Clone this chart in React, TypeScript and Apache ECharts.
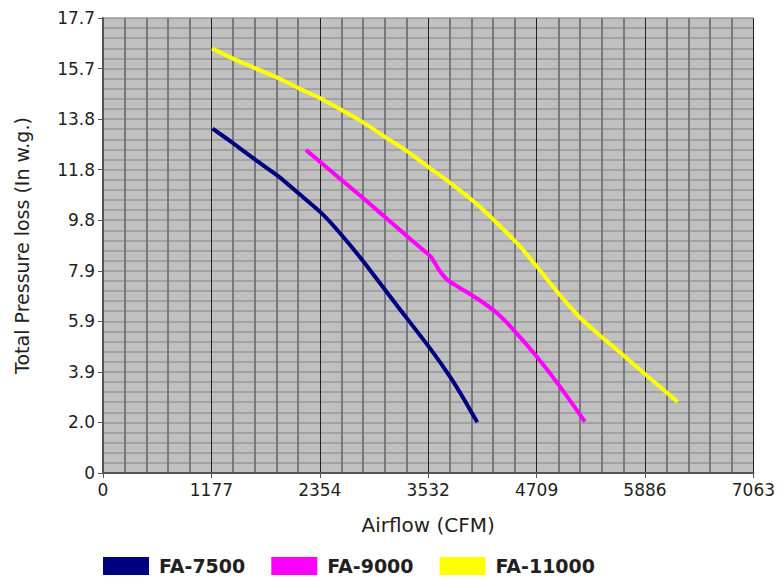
import React, { useEffect, useRef } from "react";
import * as echarts from "echarts";

const xMax = 7063;
const yMax = 17.7;
const seriesNames = ["FA-7500", "FA-9000", "FA-11000"];
const seriesColors = ["#000080", "#ff00ff", "#ffff00"];

const fa7500X = [1190, 1405, 1657, 1909, 2124, 2376, 2591, 2843, 3203, 3562, 3777, 3922, 4065];
const fa7500Y = [13.4, 12.85, 12.18, 11.53, 10.88, 10.1, 9.26, 8.16, 6.47, 4.8, 3.7, 2.86, 1.97];

const fa9000X = [2203, 2591, 2843, 3203, 3420, 3562, 3640, 3700, 3760, 3922, 4100, 4281, 4461, 4712, 4963, 5233];
const fa9000Y = [12.57, 11.4, 10.64, 9.52, 8.85, 8.41, 7.95, 7.66, 7.45, 7.1, 6.7, 6.21, 5.56, 4.52, 3.36, 2.0];

const fa11000X = [1183, 1405, 1657, 1909, 2124, 2358, 2591, 2843, 3050, 3310, 3526, 3777, 4030, 4245, 4497, 4712, 4946, 5179, 5413, 5647, 5898, 6240];
const fa11000Y = [16.52, 16.13, 15.74, 15.35, 14.97, 14.58, 14.12, 13.6, 13.1, 12.5, 11.92, 11.27, 10.55, 9.84, 8.94, 8.03, 6.99, 6.05, 5.3, 4.59, 3.81, 2.77];

const seriesX = [fa7500X, fa9000X, fa11000X];
const seriesY = [fa7500Y, fa9000Y, fa11000Y];

const FONT = "DejaVu Sans";

export default function App() {
  const ref = useRef<HTMLDivElement>(null);
  useEffect(() => {
    if (!ref.current) return;
    const chart = echarts.init(ref.current, undefined, { renderer: "svg" });
    chart.setOption({
      animation: false,
      backgroundColor: "#ffffff",
      grid: {
        left: 103,
        right: 20,
        top: 18,
        bottom: 106,
        show: true,
        backgroundColor: "#c0c0c0",
        borderWidth: 0,
      },
      legend: {
        left: 103,
        top: 556,
        padding: 0,
        itemWidth: 46,
        itemHeight: 18,
        itemGap: 26,
        icon: "rect",
        data: seriesNames,
        textStyle: {
          fontFamily: FONT,
          fontWeight: "bold",
          fontSize: 19,
          lineHeight: 20,
          color: "#231f20",
          padding: [0, 0, 0, 5],
        },
      },
      xAxis: {
        type: "value",
        min: 0,
        max: xMax,
        interval: xMax / 6,
        name: "Airflow (CFM)",
        nameLocation: "middle",
        nameGap: 42,
        nameTextStyle: { fontFamily: FONT, fontSize: 20, color: "#231f20" },
        axisLine: { show: true, lineStyle: { color: "#555", width: 2 } },
        axisTick: { show: true, length: 5, lineStyle: { color: "#555" } },
        axisLabel: {
          fontFamily: FONT,
          fontSize: 17,
          color: "#231f20",
          margin: 8,
          formatter: (v: number) => String(Math.round(v)),
        },
        splitLine: { show: true, lineStyle: { color: "#222", width: 1 } },
        minorTick: { show: false, splitNumber: 5 },
        minorSplitLine: { show: true, lineStyle: { color: "#7a7a7a", width: 2 } },
      },
      yAxis: {
        type: "value",
        min: 0,
        max: yMax,
        interval: yMax / 9,
        name: "Total Pressure loss (In w.g.)",
        nameLocation: "middle",
        nameGap: 72,
        nameTextStyle: { fontFamily: FONT, fontSize: 19, color: "#231f20" },
        axisLine: { show: true, lineStyle: { color: "#555", width: 2 } },
        axisTick: { show: true, length: 5, lineStyle: { color: "#555" } },
        axisLabel: {
          fontFamily: FONT,
          fontSize: 17,
          color: "#231f20",
          margin: 8,
          formatter: (v: number) => (v === 0 ? "0" : v.toFixed(1)),
        },
        splitLine: { show: true, lineStyle: { color: "#999", width: 1.5 } },
        minorTick: { show: false, splitNumber: 5 },
        minorSplitLine: { show: true, lineStyle: { color: "#999", width: 1.5 } },
      },
      series: seriesNames.map((name, i) => ({
        name,
        type: "line",
        smooth: 0.15,
        showSymbol: false,
        symbol: "none",
        itemStyle: { color: seriesColors[i] },
        lineStyle: { color: seriesColors[i], width: 4 },
        data: seriesX[i].map((x, j) => [x, seriesY[i][j]]),
      })),
    });
    return () => chart.dispose();
  }, []);
  return <div ref={ref} style={{ width: 778, height: 579, position: "absolute", left: 0, top: 0 }} />;
}
